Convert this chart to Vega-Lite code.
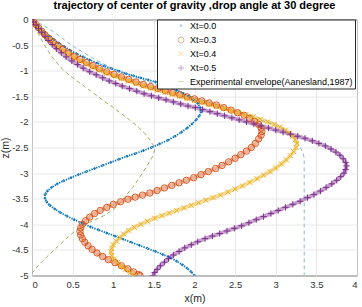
{
  "$schema": "https://vega.github.io/schema/vega-lite/v6.json",
  "width": 325,
  "height": 256,
  "autosize": {"type": "none"},
  "padding": {"left": 32, "top": 19.5, "right": 5, "bottom": 31.5},
  "background": "white",
  "title": {"text": "trajectory of center of gravity ,drop angle at 30 degree", "font": "Liberation Sans", "fontSize": 11, "fontWeight": "bold", "color": "#000000", "anchor": "middle", "offset": 4},
  "config": {
    "view": {"stroke": "#4d4d4d", "strokeWidth": 1},
    "axis": {"grid": true, "gridColor": "#e2e2e2", "gridWidth": 0.8, "domain": false, "ticks": false, "labelFont": "Liberation Sans", "labelFontSize": 9.5, "labelColor": "#333333", "labelPadding": 4, "titleFont": "Liberation Sans", "titleFontSize": 10.5, "titleFontWeight": "normal", "titleColor": "#262626"},
    "legend": {"labelFont": "Liberation Sans"}
  },
  "datasets": {
    "curves": [
      {"s":"Xt=0.0","x":0,"z":0},{"s":"Xt=0.0","x":0.03,"z":-0.05},{"s":"Xt=0.0","x":0.07,"z":-0.11},{"s":"Xt=0.0","x":0.11,"z":-0.18},{"s":"Xt=0.0","x":0.16,"z":-0.25},{"s":"Xt=0.0","x":0.21,"z":-0.32},{"s":"Xt=0.0","x":0.27,"z":-0.39},{"s":"Xt=0.0","x":0.33,"z":-0.46},{"s":"Xt=0.0","x":0.4,"z":-0.53},{"s":"Xt=0.0","x":0.47,"z":-0.6},{"s":"Xt=0.0","x":0.55,"z":-0.67},{"s":"Xt=0.0","x":0.63,"z":-0.73},{"s":"Xt=0.0","x":0.71,"z":-0.79},{"s":"Xt=0.0","x":0.8,"z":-0.85},{"s":"Xt=0.0","x":0.89,"z":-0.91},{"s":"Xt=0.0","x":0.98,"z":-0.96},{"s":"Xt=0.0","x":1.07,"z":-1.01},{"s":"Xt=0.0","x":1.16,"z":-1.06},{"s":"Xt=0.0","x":1.25,"z":-1.1},{"s":"Xt=0.0","x":1.34,"z":-1.14},{"s":"Xt=0.0","x":1.43,"z":-1.18},{"s":"Xt=0.0","x":1.52,"z":-1.22},{"s":"Xt=0.0","x":1.61,"z":-1.27},{"s":"Xt=0.0","x":1.7,"z":-1.32},{"s":"Xt=0.0","x":1.78,"z":-1.38},{"s":"Xt=0.0","x":1.86,"z":-1.44},{"s":"Xt=0.0","x":1.93,"z":-1.5},{"s":"Xt=0.0","x":1.99,"z":-1.57},{"s":"Xt=0.0","x":2.04,"z":-1.64},{"s":"Xt=0.0","x":2.07,"z":-1.72},{"s":"Xt=0.0","x":2.08,"z":-1.8},{"s":"Xt=0.0","x":2.06,"z":-1.88},{"s":"Xt=0.0","x":2.02,"z":-1.96},{"s":"Xt=0.0","x":1.97,"z":-2.04},{"s":"Xt=0.0","x":1.91,"z":-2.12},{"s":"Xt=0.0","x":1.84,"z":-2.2},{"s":"Xt=0.0","x":1.76,"z":-2.28},{"s":"Xt=0.0","x":1.67,"z":-2.36},{"s":"Xt=0.0","x":1.57,"z":-2.43},{"s":"Xt=0.0","x":1.47,"z":-2.5},{"s":"Xt=0.0","x":1.37,"z":-2.56},{"s":"Xt=0.0","x":1.27,"z":-2.62},{"s":"Xt=0.0","x":1.17,"z":-2.67},{"s":"Xt=0.0","x":1.07,"z":-2.73},{"s":"Xt=0.0","x":0.97,"z":-2.79},{"s":"Xt=0.0","x":0.87,"z":-2.85},{"s":"Xt=0.0","x":0.77,"z":-2.91},{"s":"Xt=0.0","x":0.67,"z":-2.97},{"s":"Xt=0.0","x":0.57,"z":-3.03},{"s":"Xt=0.0","x":0.48,"z":-3.09},{"s":"Xt=0.0","x":0.39,"z":-3.15},{"s":"Xt=0.0","x":0.31,"z":-3.21},{"s":"Xt=0.0","x":0.24,"z":-3.28},{"s":"Xt=0.0","x":0.19,"z":-3.35},{"s":"Xt=0.0","x":0.16,"z":-3.42},{"s":"Xt=0.0","x":0.16,"z":-3.49},{"s":"Xt=0.0","x":0.18,"z":-3.56},{"s":"Xt=0.0","x":0.22,"z":-3.63},{"s":"Xt=0.0","x":0.28,"z":-3.7},{"s":"Xt=0.0","x":0.35,"z":-3.77},{"s":"Xt=0.0","x":0.43,"z":-3.84},{"s":"Xt=0.0","x":0.52,"z":-3.91},{"s":"Xt=0.0","x":0.62,"z":-3.98},{"s":"Xt=0.0","x":0.72,"z":-4.05},{"s":"Xt=0.0","x":0.82,"z":-4.11},{"s":"Xt=0.0","x":0.92,"z":-4.17},{"s":"Xt=0.0","x":1.02,"z":-4.23},{"s":"Xt=0.0","x":1.12,"z":-4.29},{"s":"Xt=0.0","x":1.22,"z":-4.35},{"s":"Xt=0.0","x":1.32,"z":-4.41},{"s":"Xt=0.0","x":1.42,"z":-4.47},{"s":"Xt=0.0","x":1.52,"z":-4.53},{"s":"Xt=0.0","x":1.61,"z":-4.59},{"s":"Xt=0.0","x":1.7,"z":-4.65},{"s":"Xt=0.0","x":1.78,"z":-4.72},{"s":"Xt=0.0","x":1.85,"z":-4.79},{"s":"Xt=0.0","x":1.91,"z":-4.86},{"s":"Xt=0.0","x":1.96,"z":-4.93},{"s":"Xt=0.0","x":2.0,"z":-5.0},

      {"s":"Xt=0.3","x":0,"z":0},{"s":"Xt=0.3","x":0.02,"z":-0.04},{"s":"Xt=0.3","x":0.05,"z":-0.1},{"s":"Xt=0.3","x":0.08,"z":-0.16},{"s":"Xt=0.3","x":0.12,"z":-0.23},{"s":"Xt=0.3","x":0.16,"z":-0.3},{"s":"Xt=0.3","x":0.21,"z":-0.37},{"s":"Xt=0.3","x":0.26,"z":-0.44},{"s":"Xt=0.3","x":0.32,"z":-0.51},{"s":"Xt=0.3","x":0.38,"z":-0.58},{"s":"Xt=0.3","x":0.45,"z":-0.65},{"s":"Xt=0.3","x":0.52,"z":-0.72},{"s":"Xt=0.3","x":0.59,"z":-0.78},{"s":"Xt=0.3","x":0.67,"z":-0.84},{"s":"Xt=0.3","x":0.75,"z":-0.9},{"s":"Xt=0.3","x":0.83,"z":-0.96},{"s":"Xt=0.3","x":0.92,"z":-1.02},{"s":"Xt=0.3","x":1.01,"z":-1.07},{"s":"Xt=0.3","x":1.1,"z":-1.12},{"s":"Xt=0.3","x":1.19,"z":-1.17},{"s":"Xt=0.3","x":1.28,"z":-1.22},{"s":"Xt=0.3","x":1.37,"z":-1.27},{"s":"Xt=0.3","x":1.46,"z":-1.31},{"s":"Xt=0.3","x":1.55,"z":-1.35},{"s":"Xt=0.3","x":1.64,"z":-1.39},{"s":"Xt=0.3","x":1.73,"z":-1.43},{"s":"Xt=0.3","x":1.82,"z":-1.47},{"s":"Xt=0.3","x":1.91,"z":-1.51},{"s":"Xt=0.3","x":2.0,"z":-1.55},{"s":"Xt=0.3","x":2.09,"z":-1.59},{"s":"Xt=0.3","x":2.18,"z":-1.63},{"s":"Xt=0.3","x":2.27,"z":-1.67},{"s":"Xt=0.3","x":2.36,"z":-1.72},{"s":"Xt=0.3","x":2.45,"z":-1.77},{"s":"Xt=0.3","x":2.53,"z":-1.82},{"s":"Xt=0.3","x":2.61,"z":-1.87},{"s":"Xt=0.3","x":2.68,"z":-1.93},{"s":"Xt=0.3","x":2.74,"z":-1.99},{"s":"Xt=0.3","x":2.79,"z":-2.05},{"s":"Xt=0.3","x":2.82,"z":-2.12},{"s":"Xt=0.3","x":2.83,"z":-2.19},{"s":"Xt=0.3","x":2.82,"z":-2.26},{"s":"Xt=0.3","x":2.79,"z":-2.33},{"s":"Xt=0.3","x":2.75,"z":-2.42},{"s":"Xt=0.3","x":2.7,"z":-2.5},{"s":"Xt=0.3","x":2.64,"z":-2.57},{"s":"Xt=0.3","x":2.57,"z":-2.64},{"s":"Xt=0.3","x":2.5,"z":-2.71},{"s":"Xt=0.3","x":2.42,"z":-2.78},{"s":"Xt=0.3","x":2.34,"z":-2.85},{"s":"Xt=0.3","x":2.26,"z":-2.91},{"s":"Xt=0.3","x":2.17,"z":-2.97},{"s":"Xt=0.3","x":2.08,"z":-3.03},{"s":"Xt=0.3","x":1.99,"z":-3.09},{"s":"Xt=0.3","x":1.9,"z":-3.14},{"s":"Xt=0.3","x":1.81,"z":-3.19},{"s":"Xt=0.3","x":1.72,"z":-3.24},{"s":"Xt=0.3","x":1.63,"z":-3.29},{"s":"Xt=0.3","x":1.54,"z":-3.34},{"s":"Xt=0.3","x":1.45,"z":-3.39},{"s":"Xt=0.3","x":1.36,"z":-3.43},{"s":"Xt=0.3","x":1.27,"z":-3.47},{"s":"Xt=0.3","x":1.18,"z":-3.51},{"s":"Xt=0.3","x":1.09,"z":-3.56},{"s":"Xt=0.3","x":1.0,"z":-3.61},{"s":"Xt=0.3","x":0.92,"z":-3.67},{"s":"Xt=0.3","x":0.84,"z":-3.73},{"s":"Xt=0.3","x":0.77,"z":-3.79},{"s":"Xt=0.3","x":0.71,"z":-3.86},{"s":"Xt=0.3","x":0.66,"z":-3.93},{"s":"Xt=0.3","x":0.62,"z":-4.0},{"s":"Xt=0.3","x":0.6,"z":-4.07},{"s":"Xt=0.3","x":0.59,"z":-4.14},{"s":"Xt=0.3","x":0.6,"z":-4.21},{"s":"Xt=0.3","x":0.62,"z":-4.28},{"s":"Xt=0.3","x":0.65,"z":-4.35},{"s":"Xt=0.3","x":0.69,"z":-4.42},{"s":"Xt=0.3","x":0.74,"z":-4.49},{"s":"Xt=0.3","x":0.8,"z":-4.56},{"s":"Xt=0.3","x":0.87,"z":-4.63},{"s":"Xt=0.3","x":0.94,"z":-4.69},{"s":"Xt=0.3","x":1.02,"z":-4.75},{"s":"Xt=0.3","x":1.1,"z":-4.81},{"s":"Xt=0.3","x":1.18,"z":-4.87},{"s":"Xt=0.3","x":1.25,"z":-4.93},{"s":"Xt=0.3","x":1.31,"z":-4.98},{"s":"Xt=0.3","x":1.33,"z":-5.0},

      {"s":"Xt=0.4","x":0,"z":0},{"s":"Xt=0.4","x":0.02,"z":-0.05},{"s":"Xt=0.4","x":0.05,"z":-0.1},{"s":"Xt=0.4","x":0.08,"z":-0.17},{"s":"Xt=0.4","x":0.12,"z":-0.24},{"s":"Xt=0.4","x":0.16,"z":-0.31},{"s":"Xt=0.4","x":0.21,"z":-0.39},{"s":"Xt=0.4","x":0.26,"z":-0.46},{"s":"Xt=0.4","x":0.32,"z":-0.54},{"s":"Xt=0.4","x":0.38,"z":-0.61},{"s":"Xt=0.4","x":0.45,"z":-0.68},{"s":"Xt=0.4","x":0.52,"z":-0.75},{"s":"Xt=0.4","x":0.59,"z":-0.81},{"s":"Xt=0.4","x":0.67,"z":-0.87},{"s":"Xt=0.4","x":0.75,"z":-0.93},{"s":"Xt=0.4","x":0.83,"z":-0.99},{"s":"Xt=0.4","x":0.92,"z":-1.05},{"s":"Xt=0.4","x":1.01,"z":-1.1},{"s":"Xt=0.4","x":1.1,"z":-1.15},{"s":"Xt=0.4","x":1.19,"z":-1.2},{"s":"Xt=0.4","x":1.28,"z":-1.25},{"s":"Xt=0.4","x":1.37,"z":-1.3},{"s":"Xt=0.4","x":1.46,"z":-1.34},{"s":"Xt=0.4","x":1.55,"z":-1.38},{"s":"Xt=0.4","x":1.64,"z":-1.42},{"s":"Xt=0.4","x":1.73,"z":-1.46},{"s":"Xt=0.4","x":1.82,"z":-1.5},{"s":"Xt=0.4","x":1.91,"z":-1.54},{"s":"Xt=0.4","x":2.0,"z":-1.58},{"s":"Xt=0.4","x":2.09,"z":-1.62},{"s":"Xt=0.4","x":2.18,"z":-1.66},{"s":"Xt=0.4","x":2.27,"z":-1.7},{"s":"Xt=0.4","x":2.36,"z":-1.74},{"s":"Xt=0.4","x":2.45,"z":-1.78},{"s":"Xt=0.4","x":2.54,"z":-1.82},{"s":"Xt=0.4","x":2.63,"z":-1.86},{"s":"Xt=0.4","x":2.72,"z":-1.9},{"s":"Xt=0.4","x":2.81,"z":-1.95},{"s":"Xt=0.4","x":2.9,"z":-2.0},{"s":"Xt=0.4","x":2.98,"z":-2.05},{"s":"Xt=0.4","x":3.05,"z":-2.1},{"s":"Xt=0.4","x":3.12,"z":-2.16},{"s":"Xt=0.4","x":3.17,"z":-2.22},{"s":"Xt=0.4","x":3.21,"z":-2.28},{"s":"Xt=0.4","x":3.24,"z":-2.35},{"s":"Xt=0.4","x":3.26,"z":-2.42},{"s":"Xt=0.4","x":3.25,"z":-2.5},{"s":"Xt=0.4","x":3.22,"z":-2.58},{"s":"Xt=0.4","x":3.18,"z":-2.66},{"s":"Xt=0.4","x":3.13,"z":-2.74},{"s":"Xt=0.4","x":3.07,"z":-2.82},{"s":"Xt=0.4","x":3.0,"z":-2.9},{"s":"Xt=0.4","x":2.93,"z":-2.97},{"s":"Xt=0.4","x":2.85,"z":-3.04},{"s":"Xt=0.4","x":2.77,"z":-3.11},{"s":"Xt=0.4","x":2.68,"z":-3.18},{"s":"Xt=0.4","x":2.59,"z":-3.25},{"s":"Xt=0.4","x":2.5,"z":-3.31},{"s":"Xt=0.4","x":2.41,"z":-3.37},{"s":"Xt=0.4","x":2.32,"z":-3.43},{"s":"Xt=0.4","x":2.23,"z":-3.48},{"s":"Xt=0.4","x":2.14,"z":-3.53},{"s":"Xt=0.4","x":2.05,"z":-3.58},{"s":"Xt=0.4","x":1.96,"z":-3.63},{"s":"Xt=0.4","x":1.87,"z":-3.68},{"s":"Xt=0.4","x":1.78,"z":-3.73},{"s":"Xt=0.4","x":1.69,"z":-3.78},{"s":"Xt=0.4","x":1.6,"z":-3.83},{"s":"Xt=0.4","x":1.51,"z":-3.88},{"s":"Xt=0.4","x":1.42,"z":-3.94},{"s":"Xt=0.4","x":1.34,"z":-4.0},{"s":"Xt=0.4","x":1.26,"z":-4.06},{"s":"Xt=0.4","x":1.19,"z":-4.12},{"s":"Xt=0.4","x":1.13,"z":-4.19},{"s":"Xt=0.4","x":1.08,"z":-4.26},{"s":"Xt=0.4","x":1.04,"z":-4.33},{"s":"Xt=0.4","x":1.0,"z":-4.4},{"s":"Xt=0.4","x":0.98,"z":-4.47},{"s":"Xt=0.4","x":0.97,"z":-4.54},{"s":"Xt=0.4","x":0.98,"z":-4.61},{"s":"Xt=0.4","x":1.01,"z":-4.68},{"s":"Xt=0.4","x":1.05,"z":-4.75},{"s":"Xt=0.4","x":1.1,"z":-4.82},{"s":"Xt=0.4","x":1.15,"z":-4.88},{"s":"Xt=0.4","x":1.21,"z":-4.94},{"s":"Xt=0.4","x":1.26,"z":-5.0},

      {"s":"Xt=0.5","x":0,"z":0},{"s":"Xt=0.5","x":0.02,"z":-0.05},{"s":"Xt=0.5","x":0.05,"z":-0.11},{"s":"Xt=0.5","x":0.08,"z":-0.18},{"s":"Xt=0.5","x":0.12,"z":-0.25},{"s":"Xt=0.5","x":0.16,"z":-0.33},{"s":"Xt=0.5","x":0.2,"z":-0.41},{"s":"Xt=0.5","x":0.25,"z":-0.49},{"s":"Xt=0.5","x":0.3,"z":-0.57},{"s":"Xt=0.5","x":0.36,"z":-0.65},{"s":"Xt=0.5","x":0.42,"z":-0.73},{"s":"Xt=0.5","x":0.49,"z":-0.81},{"s":"Xt=0.5","x":0.56,"z":-0.88},{"s":"Xt=0.5","x":0.63,"z":-0.95},{"s":"Xt=0.5","x":0.71,"z":-1.02},{"s":"Xt=0.5","x":0.79,"z":-1.08},{"s":"Xt=0.5","x":0.87,"z":-1.14},{"s":"Xt=0.5","x":0.95,"z":-1.2},{"s":"Xt=0.5","x":1.03,"z":-1.25},{"s":"Xt=0.5","x":1.11,"z":-1.3},{"s":"Xt=0.5","x":1.2,"z":-1.35},{"s":"Xt=0.5","x":1.29,"z":-1.4},{"s":"Xt=0.5","x":1.38,"z":-1.45},{"s":"Xt=0.5","x":1.47,"z":-1.49},{"s":"Xt=0.5","x":1.56,"z":-1.53},{"s":"Xt=0.5","x":1.65,"z":-1.57},{"s":"Xt=0.5","x":1.74,"z":-1.61},{"s":"Xt=0.5","x":1.83,"z":-1.65},{"s":"Xt=0.5","x":1.92,"z":-1.69},{"s":"Xt=0.5","x":2.01,"z":-1.72},{"s":"Xt=0.5","x":2.1,"z":-1.76},{"s":"Xt=0.5","x":2.19,"z":-1.8},{"s":"Xt=0.5","x":2.28,"z":-1.84},{"s":"Xt=0.5","x":2.37,"z":-1.88},{"s":"Xt=0.5","x":2.46,"z":-1.92},{"s":"Xt=0.5","x":2.55,"z":-1.96},{"s":"Xt=0.5","x":2.64,"z":-2.0},{"s":"Xt=0.5","x":2.73,"z":-2.04},{"s":"Xt=0.5","x":2.82,"z":-2.08},{"s":"Xt=0.5","x":2.91,"z":-2.12},{"s":"Xt=0.5","x":3.0,"z":-2.16},{"s":"Xt=0.5","x":3.09,"z":-2.2},{"s":"Xt=0.5","x":3.18,"z":-2.24},{"s":"Xt=0.5","x":3.27,"z":-2.28},{"s":"Xt=0.5","x":3.36,"z":-2.32},{"s":"Xt=0.5","x":3.45,"z":-2.37},{"s":"Xt=0.5","x":3.53,"z":-2.42},{"s":"Xt=0.5","x":3.61,"z":-2.47},{"s":"Xt=0.5","x":3.68,"z":-2.53},{"s":"Xt=0.5","x":3.74,"z":-2.59},{"s":"Xt=0.5","x":3.79,"z":-2.65},{"s":"Xt=0.5","x":3.83,"z":-2.72},{"s":"Xt=0.5","x":3.86,"z":-2.79},{"s":"Xt=0.5","x":3.87,"z":-2.86},{"s":"Xt=0.5","x":3.86,"z":-2.93},{"s":"Xt=0.5","x":3.84,"z":-3.0},{"s":"Xt=0.5","x":3.8,"z":-3.07},{"s":"Xt=0.5","x":3.75,"z":-3.14},{"s":"Xt=0.5","x":3.69,"z":-3.21},{"s":"Xt=0.5","x":3.62,"z":-3.28},{"s":"Xt=0.5","x":3.55,"z":-3.35},{"s":"Xt=0.5","x":3.47,"z":-3.42},{"s":"Xt=0.5","x":3.39,"z":-3.48},{"s":"Xt=0.5","x":3.3,"z":-3.55},{"s":"Xt=0.5","x":3.21,"z":-3.61},{"s":"Xt=0.5","x":3.12,"z":-3.67},{"s":"Xt=0.5","x":3.03,"z":-3.73},{"s":"Xt=0.5","x":2.94,"z":-3.79},{"s":"Xt=0.5","x":2.85,"z":-3.85},{"s":"Xt=0.5","x":2.76,"z":-3.91},{"s":"Xt=0.5","x":2.67,"z":-3.97},{"s":"Xt=0.5","x":2.58,"z":-4.03},{"s":"Xt=0.5","x":2.49,"z":-4.08},{"s":"Xt=0.5","x":2.4,"z":-4.13},{"s":"Xt=0.5","x":2.31,"z":-4.18},{"s":"Xt=0.5","x":2.22,"z":-4.23},{"s":"Xt=0.5","x":2.13,"z":-4.28},{"s":"Xt=0.5","x":2.04,"z":-4.34},{"s":"Xt=0.5","x":1.96,"z":-4.4},{"s":"Xt=0.5","x":1.88,"z":-4.46},{"s":"Xt=0.5","x":1.81,"z":-4.53},{"s":"Xt=0.5","x":1.74,"z":-4.6},{"s":"Xt=0.5","x":1.68,"z":-4.67},{"s":"Xt=0.5","x":1.63,"z":-4.74},{"s":"Xt=0.5","x":1.58,"z":-4.81},{"s":"Xt=0.5","x":1.54,"z":-4.88},{"s":"Xt=0.5","x":1.51,"z":-4.94},{"s":"Xt=0.5","x":1.49,"z":-5.0},

      {"s":"Experimental envelope(Aanesland,1987)","x":0,"z":0},{"s":"Experimental envelope(Aanesland,1987)","x":0.03,"z":-0.1},{"s":"Experimental envelope(Aanesland,1987)","x":0.06,"z":-0.22},{"s":"Experimental envelope(Aanesland,1987)","x":0.1,"z":-0.35},{"s":"Experimental envelope(Aanesland,1987)","x":0.15,"z":-0.49},{"s":"Experimental envelope(Aanesland,1987)","x":0.2,"z":-0.62},{"s":"Experimental envelope(Aanesland,1987)","x":0.28,"z":-0.8},{"s":"Experimental envelope(Aanesland,1987)","x":0.38,"z":-0.98},{"s":"Experimental envelope(Aanesland,1987)","x":0.47,"z":-1.1},{"s":"Experimental envelope(Aanesland,1987)","x":0.57,"z":-1.22},{"s":"Experimental envelope(Aanesland,1987)","x":0.68,"z":-1.35},{"s":"Experimental envelope(Aanesland,1987)","x":0.8,"z":-1.49},{"s":"Experimental envelope(Aanesland,1987)","x":0.9,"z":-1.61},{"s":"Experimental envelope(Aanesland,1987)","x":1.0,"z":-1.72},{"s":"Experimental envelope(Aanesland,1987)","x":1.1,"z":-1.84},{"s":"Experimental envelope(Aanesland,1987)","x":1.2,"z":-1.96},{"s":"Experimental envelope(Aanesland,1987)","x":1.3,"z":-2.09},{"s":"Experimental envelope(Aanesland,1987)","x":1.38,"z":-2.21},{"s":"Experimental envelope(Aanesland,1987)","x":1.44,"z":-2.33},{"s":"Experimental envelope(Aanesland,1987)","x":1.49,"z":-2.45},{"s":"Experimental envelope(Aanesland,1987)","x":1.51,"z":-2.55},{"s":"Experimental envelope(Aanesland,1987)","x":1.49,"z":-2.66},{"s":"Experimental envelope(Aanesland,1987)","x":1.42,"z":-2.85},{"s":"Experimental envelope(Aanesland,1987)","x":1.33,"z":-3.07},{"s":"Experimental envelope(Aanesland,1987)","x":1.24,"z":-3.28},{"s":"Experimental envelope(Aanesland,1987)","x":1.14,"z":-3.47},{"s":"Experimental envelope(Aanesland,1987)","x":1.04,"z":-3.66},{"s":"Experimental envelope(Aanesland,1987)","x":0.9,"z":-3.82},{"s":"Experimental envelope(Aanesland,1987)","x":0.75,"z":-3.93},{"s":"Experimental envelope(Aanesland,1987)","x":0.59,"z":-4.05},{"s":"Experimental envelope(Aanesland,1987)","x":0.45,"z":-4.24},{"s":"Experimental envelope(Aanesland,1987)","x":0.32,"z":-4.43},{"s":"Experimental envelope(Aanesland,1987)","x":0.18,"z":-4.64},{"s":"Experimental envelope(Aanesland,1987)","x":0.08,"z":-4.8},{"s":"Experimental envelope(Aanesland,1987)","x":0,"z":-4.95}
    ],
    "outer": [
      {"x":0,"z":0},{"x":0.1,"z":-0.08},{"x":0.2,"z":-0.17},{"x":0.3,"z":-0.28},{"x":0.4,"z":-0.4},{"x":0.5,"z":-0.52},{"x":0.65,"z":-0.66},{"x":0.8,"z":-0.8},{"x":1.0,"z":-0.96},{"x":1.2,"z":-1.08},{"x":1.4,"z":-1.2},{"x":1.6,"z":-1.3},{"x":1.8,"z":-1.42},{"x":2.0,"z":-1.53},{"x":2.2,"z":-1.63},{"x":2.4,"z":-1.73},{"x":2.6,"z":-1.84},{"x":2.8,"z":-1.96},{"x":2.98,"z":-2.05},{"x":3.12,"z":-2.16},{"x":3.22,"z":-2.3},{"x":3.28,"z":-2.44},{"x":3.33,"z":-2.58},{"x":3.35,"z":-2.7},{"x":3.35,"z":-5.0}
    ]
  },
  "encoding": {
    "x": {"field": "x", "type": "quantitative", "scale": {"domain": [0, 4], "nice": false}, "axis": {"values": [0,0.5,1,1.5,2,2.5,3,3.5,4], "format": "~g", "title": "x(m)", "titlePadding": 4}},
    "y": {"field": "z", "type": "quantitative", "scale": {"domain": [-5, 0], "nice": false}, "axis": {"values": [-5,-4.5,-4,-3.5,-3,-2.5,-2,-1.5,-1,-0.5,0], "labelExpr": "datum.value == 0 ? '0' : '-' + format(abs(datum.value), '~g')", "title": "z(m)", "titlePadding": 1}}
  },
  "layer": [
    {
      "data": {"name": "outer"},
      "mark": {"type": "line", "color": "#86b9d4", "strokeWidth": 1, "strokeDash": [4, 3], "clip": true},
      "encoding": {"order": {"value": null}}
    },
    {
      "data": {"name": "curves"},
      "transform": [{"filter": "datum.s === 'Experimental envelope(Aanesland,1987)'"}],
      "mark": {"type": "line", "strokeWidth": 1, "strokeDash": [4, 3], "clip": true},
      "encoding": {"color": {"field": "s", "type": "nominal"}, "order": {"value": null}}
    },
    {
      "data": {"name": "curves"},
      "transform": [{"filter": "datum.s === 'Xt=0.0'"}],
      "mark": {"type": "line", "strokeWidth": 1.8, "strokeDash": [1.3, 1.2], "clip": true},
      "encoding": {"color": {"field": "s", "type": "nominal"}, "order": {"value": null}}
    },
    {
      "data": {"name": "curves"},
      "transform": [{"filter": "datum.s === 'Xt=0.3' || datum.s === 'Xt=0.4' || datum.s === 'Xt=0.5'"}],
      "mark": {"type": "line", "strokeWidth": 4, "opacity": 0.45, "clip": true},
      "encoding": {"color": {"field": "s", "type": "nominal"}, "order": {"value": null}}
    },
    {
      "data": {"name": "curves"},
      "transform": [{"filter": "datum.s !== 'Experimental envelope(Aanesland,1987)'"}],
      "mark": {"type": "point", "filled": false, "size": 40, "strokeWidth": 1, "opacity": 1, "clip": true},
      "encoding": {
        "color": {
          "field": "s", "type": "nominal",
          "scale": {"domain": ["Xt=0.0", "Xt=0.3", "Xt=0.4", "Xt=0.5", "Experimental envelope(Aanesland,1987)"], "range": ["#0072BD", "#D95319", "#EDB120", "#7E2F8E", "#9fae5c"]},
          "legend": {
            "title": null, "orient": "none", "legendX": 125, "legendY": 0,
            "fillColor": "white", "strokeColor": "#262626",
            "padding": 1.5, "rowPadding": 3.5, "symbolOffset": 18, "labelOffset": 4.5,
            "symbolSize": 36, "symbolStrokeWidth": 1, "labelFontSize": 9, "labelColor": "#000000", "labelLimit": 400,
            "encode": {"symbols": {"update": {
              "size": [{"test": "datum.value === 'Experimental envelope(Aanesland,1987)'", "value": 700}, {"value": 36}],
              "strokeDash": [{"test": "datum.value === 'Experimental envelope(Aanesland,1987)'", "value": [4, 3]}, {"value": [1, 0]}]
            }}}
          }
        },
        "shape": {
          "field": "s", "type": "nominal",
          "scale": {"domain": ["Xt=0.0", "Xt=0.3", "Xt=0.4", "Xt=0.5", "Experimental envelope(Aanesland,1987)"], "range": ["M-0.3,0A0.3,0.3 0 1,0 0.3,0A0.3,0.3 0 1,0 -0.3,0", "circle", "M-0.8,-0.8L0.8,0.8M-0.8,0.8L0.8,-0.8", "M-1,0L1,0M0,-1L0,1", "stroke"]}
        },
        "order": {"value": null}
      }
    }
  ]
}
